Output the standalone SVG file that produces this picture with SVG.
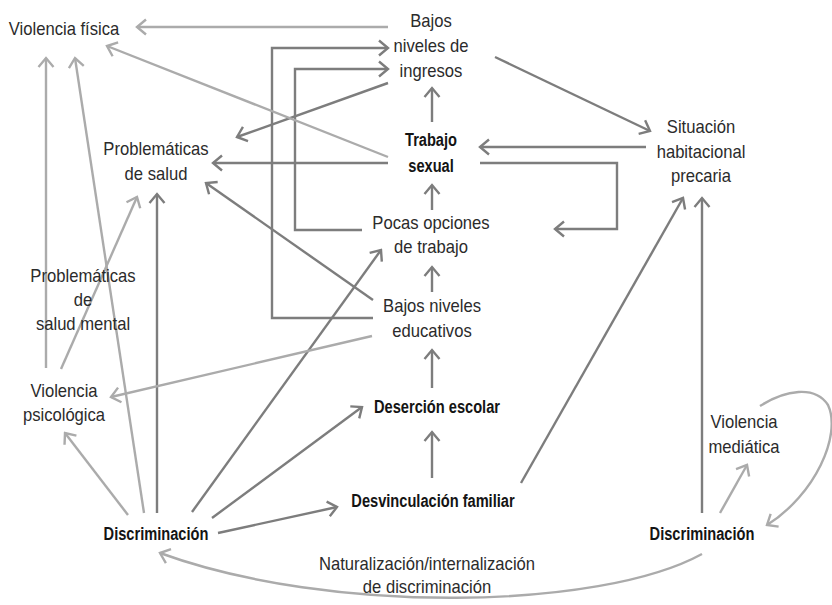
<svg xmlns="http://www.w3.org/2000/svg" width="832" height="605" viewBox="0 0 832 605">
<style>
.t{font-family:"Liberation Sans",Arial,sans-serif;font-size:19px;fill:#2b2b2b;text-anchor:middle}
.b{font-weight:bold;fill:#141414}
.d{fill:none;stroke:#7d7d7d;stroke-width:2.4;marker-end:url(#ad)}
.l{fill:none;stroke:#ababab;stroke-width:2.4;marker-end:url(#al)}
</style>
<defs>
<marker id="ad" markerUnits="userSpaceOnUse" viewBox="-12 -9 14 18" refX="0" refY="0" markerWidth="14" markerHeight="18" orient="auto">
<path d="M-9,-7.5 L0,0 L-9,7.5" fill="none" stroke="#7d7d7d" stroke-width="2.4"/>
</marker>
<marker id="al" markerUnits="userSpaceOnUse" viewBox="-12 -9 14 18" refX="0" refY="0" markerWidth="14" markerHeight="18" orient="auto">
<path d="M-9,-7.5 L0,0 L-9,7.5" fill="none" stroke="#ababab" stroke-width="2.4"/>
</marker>
</defs>
<rect width="832" height="605" fill="#ffffff"/>
<g id="connectors">
<path class="d" d="M388,83 L237,137"/>
<path class="d" d="M388,163 L213,163"/>
<path class="d" d="M373,300 L206,183"/>
<path class="d" d="M373,318 L272,318 L272,48 L388,48"/>
<path class="d" d="M362,230 L295,230 L295,69 L388,69"/>
<path class="d" d="M432,122 L432,88"/>
<path class="d" d="M432,210 L432,185"/>
<path class="d" d="M432,292 L432,267"/>
<path class="d" d="M432,388 L432,350"/>
<path class="d" d="M432,478 L432,432"/>
<path class="d" d="M495,57 L650,131"/>
<path class="d" d="M646,147 L480,147"/>
<path class="d" d="M480,163 L617,163 L617,229 L555,229"/>
<path class="d" d="M521,483 L683,198"/>
<path class="d" d="M702,513 L702,198"/>
<path class="d" d="M157,513 L157,194"/>
<path class="d" d="M192,512 L381,250"/>
<path class="d" d="M212,518 L362,407"/>
<path class="d" d="M218,533 L337,507"/>
<path class="l" d="M388,27 L137,27"/>
<path class="l" d="M388,157 L107,46"/>
<path class="l" d="M128,515 L65,433"/>
<path class="l" d="M144,513 L75,58"/>
<path class="l" d="M46,368 L46,58"/>
<path class="l" d="M61,369 L137,197"/>
<path class="l" d="M372,336 L111,397"/>
<path class="l" d="M720,513 L747,465"/>
<path class="l" d="M760,406 C785,390 815,385 828,405 C842,435 815,495 767,525"/>
<path class="l" d="M702,554 C600,610 330,615 160,553"/>
</g>
<g id="violencia-fisica"><text class="t" transform="translate(64 0) scale(0.875 1)" y="35"><tspan x="0">Violencia física</tspan></text></g>
<g id="bajos-ingresos"><text class="t" transform="translate(431 0) scale(0.875 1)"><tspan x="0" y="27">Bajos</tspan><tspan x="0" y="52">niveles de</tspan><tspan x="0" y="77">ingresos</tspan></text></g>
<g id="trabajo-sexual"><text class="t b" transform="translate(431 0) scale(0.77 1)"><tspan x="0" y="146">Trabajo</tspan><tspan x="0" y="172">sexual</tspan></text></g>
<g id="situacion"><text class="t" transform="translate(701 0) scale(0.875 1)"><tspan x="0" y="133">Situación</tspan><tspan x="0" y="158">habitacional</tspan><tspan x="0" y="182">precaria</tspan></text></g>
<g id="problematicas-salud"><text class="t" transform="translate(156 0) scale(0.875 1)"><tspan x="0" y="155">Problemáticas</tspan><tspan x="0" y="180">de salud</tspan></text></g>
<g id="pocas-opciones"><text class="t" transform="translate(431 0) scale(0.875 1)"><tspan x="0" y="229">Pocas opciones</tspan><tspan x="0" y="253">de trabajo</tspan></text></g>
<g id="bajos-educativos"><text class="t" transform="translate(432 0) scale(0.875 1)"><tspan x="0" y="312">Bajos niveles</tspan><tspan x="0" y="337">educativos</tspan></text></g>
<g id="salud-mental"><text class="t" transform="translate(83 0) scale(0.875 1)"><tspan x="0" y="282">Problemáticas</tspan><tspan x="0" y="306">de</tspan><tspan x="0" y="330">salud mental</tspan></text></g>
<g id="violencia-psicologica"><text class="t" transform="translate(64 0) scale(0.875 1)"><tspan x="0" y="397">Violencia</tspan><tspan x="0" y="421">psicológica</tspan></text></g>
<g id="desercion"><text class="t b" transform="translate(437 0) scale(0.77 1)" y="413"><tspan x="0">Deserción escolar</tspan></text></g>
<g id="desvinculacion"><text class="t b" transform="translate(433 0) scale(0.77 1)" y="507"><tspan x="0">Desvinculación familiar</tspan></text></g>
<g id="discriminacion-1"><text class="t b" transform="translate(156 0) scale(0.77 1)" y="540"><tspan x="0">Discriminación</tspan></text></g>
<g id="discriminacion-2"><text class="t b" transform="translate(702 0) scale(0.77 1)" y="540"><tspan x="0">Discriminación</tspan></text></g>
<g id="violencia-mediatica"><text class="t" transform="translate(744 0) scale(0.875 1)"><tspan x="0" y="428">Violencia</tspan><tspan x="0" y="453">mediática</tspan></text></g>
<g id="naturalizacion"><text class="t" transform="translate(427 0) scale(0.875 1)"><tspan x="0" y="570">Naturalización/internalización</tspan><tspan x="0" y="593">de discriminación</tspan></text></g>
</svg>
